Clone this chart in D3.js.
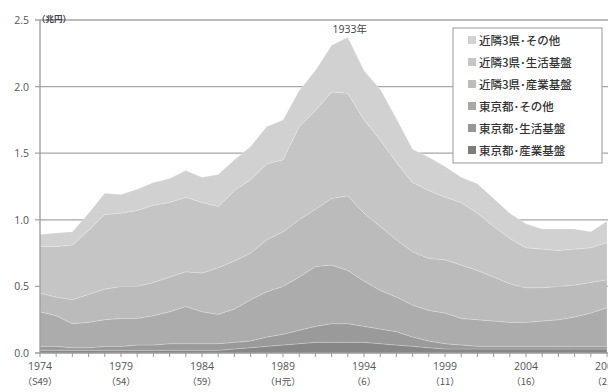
<!DOCTYPE html>
<html><head><meta charset="utf-8">
<script src="https://cdn.jsdelivr.net/npm/d3@7"></script>
<style>html,body{margin:0;padding:0;background:#fff;overflow:hidden}</style>
</head><body>
<svg id="c" width="608" height="392"></svg>
<script>
const years = d3.range(1974, 2010);
const seriesNames = ["東京都･産業基盤","東京都･生活基盤","東京都･その他","近隣3県･産業基盤","近隣3県･生活基盤","近隣3県･その他"];
const tokyoSangyo   = [0.02,0.02,0.02,0.02,0.02,0.02,0.02,0.02,0.02,0.02,0.02,0.02,0.03,0.04,0.05,0.06,0.07,0.08,0.08,0.08,0.08,0.07,0.06,0.05,0.04,0.03,0.03,0.03,0.03,0.03,0.03,0.03,0.03,0.03,0.03,0.03];
const tokyoSeikatsu = [0.03,0.03,0.02,0.02,0.03,0.03,0.04,0.04,0.05,0.05,0.05,0.05,0.05,0.05,0.07,0.08,0.10,0.12,0.14,0.14,0.12,0.11,0.10,0.07,0.05,0.04,0.03,0.02,0.02,0.02,0.02,0.02,0.02,0.02,0.02,0.02];
const tokyoSonota   = [0.26,0.23,0.18,0.19,0.20,0.21,0.20,0.22,0.24,0.28,0.24,0.22,0.25,0.31,0.34,0.36,0.40,0.45,0.44,0.40,0.34,0.29,0.26,0.24,0.23,0.23,0.20,0.20,0.19,0.18,0.18,0.19,0.20,0.22,0.25,0.29];
const kinSangyo     = [0.14,0.14,0.18,0.21,0.23,0.24,0.24,0.25,0.26,0.26,0.29,0.35,0.36,0.35,0.39,0.41,0.43,0.43,0.50,0.56,0.51,0.48,0.43,0.40,0.39,0.40,0.40,0.37,0.33,0.29,0.26,0.25,0.25,0.24,0.23,0.21];
const kinSeikatsu   = [0.35,0.38,0.41,0.48,0.56,0.55,0.57,0.58,0.56,0.56,0.53,0.46,0.53,0.55,0.57,0.54,0.70,0.74,0.80,0.77,0.70,0.65,0.58,0.52,0.51,0.47,0.47,0.43,0.38,0.34,0.30,0.29,0.27,0.27,0.26,0.28];
const kinSonota     = [0.09,0.10,0.10,0.13,0.16,0.14,0.16,0.17,0.18,0.20,0.19,0.24,0.23,0.25,0.28,0.30,0.27,0.30,0.35,0.42,0.37,0.38,0.33,0.25,0.25,0.23,0.19,0.22,0.21,0.19,0.18,0.15,0.16,0.15,0.12,0.16];
const yTicks = [0.0,0.5,1.0,1.5,2.0,2.5];
const xLabelYears = [1974,1979,1984,1989,1994,1999,2004,2009];
const xSubLabels = ["（S49）","（54）","（59）","（H元）","（6）","（11）","（16）","（21）"];
const unitLabel = "（兆円）";
const peakLabel = "1933年";
const peakYear = 1993;

const colors = ["#878787","#9a9a9a","#acacac","#bbbbbb","#c5c5c5","#d1d1d1"];
const legendColors = ["#7d7d7d","#969696","#a8a8a8","#bcbcbc","#c6c6c6","#d2d2d2"];

const allSeries = [tokyoSangyo,tokyoSeikatsu,tokyoSonota,kinSangyo,kinSeikatsu,kinSonota];
const table = years.map((yr,i)=>{const o={year:yr}; seriesNames.forEach((n,j)=>o[n]=allSeries[j][i]); return o;});

const svg = d3.select("#c");
const x = d3.scaleLinear().domain([1974,2009]).range([40,607]);
const y = d3.scaleLinear().domain([0,2.5]).range([353,20]);

svg.append("g").selectAll("line").data(yTicks.filter(d=>d>0)).join("line")
  .attr("x1",35).attr("x2",608).attr("y1",d=>y(d)).attr("y2",d=>y(d))
  .attr("stroke","#a6a6a6").attr("stroke-width",1.3);

const stack = d3.stack().keys(seriesNames);
const layers = stack(table);
const area = d3.area().x(d=>x(d.data.year)).y0(d=>y(d[0])).y1(d=>y(d[1]));
svg.append("g").selectAll("path").data(layers).join("path")
  .attr("d",area).attr("fill",(d,i)=>colors[i])
  .attr("stroke","rgba(255,255,255,0.3)").attr("stroke-width",0.7);

svg.append("line").attr("x1",40).attr("x2",40).attr("y1",y(2.5)).attr("y2",353).attr("stroke","#9a9a9a").attr("stroke-width",1.3);
svg.append("line").attr("x1",35).attr("x2",608).attr("y1",353).attr("y2",353).attr("stroke","#9a9a9a").attr("stroke-width",1.3);

svg.append("g").selectAll("text").data(yTicks).join("text")
  .attr("x",29).attr("y",d=>y(d)+4).attr("text-anchor","end")
  .attr("font-family","'Open Sans','DejaVu Sans',sans-serif").attr("font-size",10.5).attr("fill","#555")
  .text(d=>d.toFixed(1));

svg.append("g").selectAll("line").data(years).join("line")
  .attr("x1",d=>x(d)).attr("x2",d=>x(d)).attr("y1",353).attr("y2",357)
  .attr("stroke","#9a9a9a").attr("stroke-width",1);

const xl = svg.append("g").attr("font-family","'Open Sans','Noto Sans CJK JP',sans-serif").attr("font-size",10.5).attr("fill","#555").attr("text-anchor","middle");
xl.selectAll("text.yr").data(xLabelYears).join("text").attr("class","yr")
  .attr("x",d=>x(d)).attr("y",370).text(d=>d);
xl.selectAll("text.sub").data(xLabelYears).join("text").attr("class","sub")
  .attr("x",d=>x(d)).attr("y",385).attr("font-family","'Noto Sans CJK JP',sans-serif").attr("font-size",9.5)
  .text((d,i)=>xSubLabels[i]);

svg.append("text").attr("x",37).attr("y",22).attr("font-family","'Noto Sans CJK JP',sans-serif")
  .attr("font-size",8.5).attr("font-weight","bold").attr("fill","#444").text(unitLabel);

const peakIdx = years.indexOf(peakYear);
const peakTotal = d3.sum(allSeries, s=>s[peakIdx]);
svg.append("text").attr("x",x(peakYear)+2).attr("y",y(peakTotal)-4).attr("text-anchor","middle")
  .attr("font-family","'Open Sans','Noto Sans CJK JP',sans-serif").attr("font-size",10.5).attr("fill","#444").text(peakLabel);

const lg = svg.append("g");
lg.append("rect").attr("x",453).attr("y",28).attr("width",149).attr("height",135)
  .attr("fill","#fff").attr("stroke","#a8a8a8").attr("stroke-width",1.2);
const legendOrder = seriesNames.slice().reverse();
legendOrder.forEach((n,i)=>{
  const ci = seriesNames.indexOf(n);
  const cy = 40 + i*22;
  lg.append("rect").attr("x",468).attr("y",cy-4).attr("width",8).attr("height",8).attr("fill",legendColors[ci]);
  lg.append("text").attr("x",479).attr("y",cy+4.5).attr("font-family","'Noto Sans CJK JP',sans-serif")
    .attr("font-size",11.5).attr("font-weight","500").attr("fill","#333").text(n);
});
</script>
</body></html>
